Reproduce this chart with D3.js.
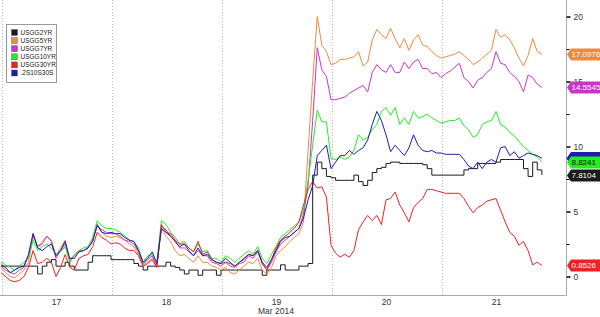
<!DOCTYPE html>
<html>
<head>
<meta charset="utf-8">
<script src="https://cdn.jsdelivr.net/npm/d3@7"></script>
<style>
  html, body { margin: 0; padding: 0; background: #fff; }
  svg { display: block; font-family: "Liberation Sans", Arial, sans-serif; }
</style>
</head>
<body>
<div id="chart"></div>
<script>
// Hourly samples from Mon 17 Mar 2014 00:00 (UTC) — index = hours since start.
const startUtc = Date.UTC(2014, 2, 17);

// Changes in bp, one value per hour.
const usgg2yr = [0.8,0.8,0.8,0.8,0.8,0.8,0.8,0.8,0.2,0.8,
  1.1,1.3,0.8,0.8,1.1,0.8,0.5,0.5,0.5,1.1,
  1.6,1.6,1.6,1.6,1.3,1.3,1.3,1.3,1.3,1.0,
  0.8,0.5,0.8,0.8,0.8,0.8,1.1,0.8,0.7,0.5,
  0.2,0.5,0.5,0.1,0.5,0.5,0.5,0.1,0.5,0.5,
  0.5,0.5,0.5,0.5,0.5,0.5,0.5,0.1,0.5,0.5,
  0.5,0.9,0.5,0.5,0.5,0.8,0.8,1.0,7.8,8.8,
  8.3,7.7,7.6,7.4,7.4,7.4,7.4,7.8,7.3,7.0,
  7.4,8.0,8.3,8.4,8.7,8.8,8.8,8.7,8.7,8.7,
  8.7,8.7,8.6,8.3,7.8,7.8,7.8,7.8,7.8,7.8,
  7.8,8.2,8.3,8.3,8.7,8.7,8.7,8.7,8.8,9.0,
  9.0,9.0,9.0,9.0,8.3,7.7,8.8,8.2,7.8104];

const usgg5yr = [0.7,0.3,0.0,-0.1,0.2,0.5,1.1,3.1,2.3,2.7,
  3.1,2.8,1.6,2.2,2.8,1.1,1.7,2.0,2.0,2.2,
  2.8,3.9,3.4,3.1,3.0,3.1,3.0,2.8,2.5,2.3,
  1.7,0.9,1.1,1.4,0.7,3.7,3.1,2.7,2.0,1.6,
  1.7,1.4,1.1,1.6,1.1,1.1,0.8,0.7,0.5,0.7,
  0.3,0.2,0.5,0.8,1.1,1.0,1.4,0.5,0.2,0.7,
  1.6,2.0,2.3,2.7,3.0,3.3,4.2,9.7,15.1,20.0,
  17.8,17.3,16.3,16.4,16.7,16.7,16.8,16.9,17.3,16.2,
  16.5,18.2,19.0,18.6,18.3,19.1,18.3,17.6,18.3,17.4,
  18.2,18.6,17.8,17.7,17.3,17.0,16.8,16.9,17.0,17.1,
  17.3,17.0,16.7,16.3,16.5,16.8,17.1,17.4,19.0,18.4,
  18.6,18.2,17.6,16.8,16.2,17.0,18.3,17.3,17.0976];

const usgg7yr = [0.8,0.5,0.3,0.2,0.5,0.7,1.6,3.3,2.3,2.5,
  3.1,2.7,1.4,2.0,2.5,1.3,1.6,1.9,2.0,2.2,
  2.8,3.9,3.6,3.4,3.3,3.3,3.1,2.8,2.7,2.5,
  1.9,1.0,1.3,1.6,0.8,3.9,3.6,3.1,2.7,2.2,
  2.2,1.9,1.6,2.0,1.6,1.6,1.1,1.0,0.8,1.1,
  0.8,0.7,1.0,1.1,1.6,1.4,1.9,1.0,0.5,1.1,
  1.9,2.5,2.8,3.1,3.4,3.7,4.8,7.0,12.0,17.6,
  15.9,15.4,13.6,13.6,13.7,13.8,14.1,14.3,14.5,14.7,
  14.2,15.7,16.3,15.9,15.7,16.3,15.7,15.7,16.5,16.0,
  16.5,16.7,16.0,16.0,15.6,15.7,15.3,15.6,15.8,16.1,
  16.4,15.3,15.0,14.5,15.1,15.3,15.7,16.0,17.3,16.4,
  16.3,15.7,15.4,15.0,14.2,15.5,15.3,14.8,14.5545];

const usgg10yr = [1.1,0.9,0.7,0.5,0.8,1.1,1.4,2.8,2.0,2.3,
  2.5,2.2,1.7,1.9,2.3,1.1,1.6,2.0,2.2,2.3,
  3.0,4.3,3.9,3.7,3.7,3.6,3.4,3.1,2.8,2.7,
  2.2,1.1,1.6,1.7,1.1,4.3,4.0,3.4,3.0,2.5,
  2.7,2.2,1.9,2.5,1.9,2.0,1.4,1.4,1.1,1.6,
  1.4,1.1,1.4,1.7,2.0,1.7,2.3,1.4,1.0,1.7,
  2.3,3.0,3.3,3.6,3.9,4.2,5.1,7.4,10.1,12.8,
  11.9,11.9,9.1,9.0,9.2,9.0,9.2,9.7,10.9,10.5,
  10.7,11.3,11.7,12.7,13.0,12.4,13.0,11.7,12.2,11.7,
  12.7,12.2,12.3,12.5,12.2,12.0,11.8,11.9,12.0,12.0,
  12.2,11.6,11.3,10.7,10.9,11.7,11.9,12.0,12.7,11.7,
  11.5,11.1,10.8,10.4,10.0,9.7,9.4,9.2,8.8241];

const usgg30yr = [0.3,0.0,-0.3,-0.4,-0.3,0.0,0.7,2.0,1.0,1.1,
  1.4,1.1,0.0,0.7,1.7,0.7,0.5,1.4,1.6,1.7,
  2.3,3.4,3.0,2.8,2.5,2.6,2.5,2.2,2.0,2.0,
  1.6,0.8,1.0,1.3,0.7,4.0,3.4,3.3,2.8,2.5,
  2.5,2.2,1.9,2.7,1.7,1.9,1.3,1.1,1.0,1.1,
  1.0,0.8,1.1,1.3,1.7,1.6,2.0,1.0,0.5,1.3,
  2.2,2.8,3.1,3.4,3.7,4.2,5.5,6.7,7.3,6.8,
  6.9,6.1,2.4,1.8,1.5,1.7,1.5,2.0,3.6,4.2,
  4.7,4.3,4.7,4.0,5.9,6.0,6.5,5.5,4.9,4.2,
  5.3,5.7,6.0,6.7,6.7,6.6,6.5,6.4,6.4,6.4,
  6.4,6.0,5.4,4.9,5.3,5.5,5.8,5.9,6.0,5.1,
  4.2,3.4,3.1,2.4,2.7,2.0,0.9,1.1,0.8526];

const s2s10s30s = [0.9,0.7,0.3,0.5,0.7,0.8,1.7,3.3,2.2,2.0,
  2.3,2.5,1.6,2.0,2.7,1.4,1.4,1.9,2.0,2.2,
  2.7,4.0,3.4,3.3,3.4,3.3,3.3,3.0,2.8,2.7,
  2.0,1.1,1.4,1.9,1.0,3.7,3.4,3.1,2.7,2.3,
  2.5,2.0,1.6,2.2,1.6,1.7,1.3,1.1,1.0,1.4,
  1.1,0.8,1.1,1.4,1.7,1.6,2.0,1.1,0.7,1.3,
  2.0,2.7,3.0,3.1,3.4,3.7,4.5,5.9,7.0,9.3,
  9.7,10.1,8.3,8.8,9.3,9.3,9.7,9.4,9.7,9.9,
  10.5,11.7,12.7,12.0,10.9,9.6,10.1,9.7,9.3,9.9,
  10.9,10.1,9.7,9.6,9.7,9.5,9.5,9.4,9.4,9.4,
  9.4,9.0,8.5,8.3,8.8,8.3,8.8,9.0,8.8,9.9,
  10.0,9.3,9.6,9.1,9.3,9.5,9.4,9.3,9.1];

const seriesNames  = ["USGG2YR", "USGG5YR", "USGG7YR", "USGG10YR", "USGG30YR", ".2S10S30S"];
const seriesValues = [usgg2yr, usgg5yr, usgg7yr, usgg10yr, usgg30yr, s2s10s30s];
const seriesColors = ["#1a1a1a", "#ee8a3c", "#cc33cc", "#22ee22", "#ee2222", "#1c1cae"];
const tagLabels    = ["7.8104", "17.0976", "14.5545", "8.8241", "0.8526", ""];
const tagText      = ["#fff", "#fff", "#fff", "#000", "#fff", "#fff"];
const dayTicks     = [17, 18, 19, 20, 21];
const yMajor       = [0, 5, 10, 15, 20];
const yMinor       = [2.5, 7.5, 12.5, 17.5];

const W = 600, H = 317;
const plot = {left: 1, right: 566, top: 0, bottom: 295};

const svg = d3.select("#chart").append("svg")
  .attr("width", W).attr("height", H)
  .attr("viewBox", [0, 0, W, H]);

const x = d3.scaleUtc()
  .domain([new Date(startUtc), new Date(startUtc + (5 * 24 + 3.27) * 3600e3)])
  .range([plot.left, plot.right]);
const y = d3.scaleLinear().domain([-1.42, 21.27]).range([plot.bottom, plot.top]);

const times = usgg2yr.map((_, i) => new Date(startUtc + i * 3600e3));

svg.append("clipPath").attr("id", "clip")
  .append("rect").attr("x", 0).attr("y", 0)
  .attr("width", plot.right).attr("height", plot.bottom);

// dotted day separators
const dayStart = d => new Date(Date.UTC(2014, 2, d));
svg.append("g").selectAll("line").data(dayTicks).join("line")
  .attr("x1", d => Math.round(x(dayStart(d))) + 1.5).attr("x2", d => Math.round(x(dayStart(d))) + 1.5)
  .attr("y1", plot.top).attr("y2", plot.bottom)
  .attr("stroke", "#b8b8b8").attr("stroke-dasharray", "1,2");

// plot frame: bottom and right edges
svg.append("line").attr("x1", 0).attr("x2", plot.right + 0.5)
  .attr("y1", plot.bottom + 0.5).attr("y2", plot.bottom + 0.5).attr("stroke", "#aaa");
svg.append("line").attr("x1", plot.right + 0.5).attr("x2", plot.right + 0.5)
  .attr("y1", 0).attr("y2", plot.bottom + 0.5).attr("stroke", "#aaa");

// series lines (legend order, blue drawn last)
const lines = svg.append("g").attr("clip-path", "url(#clip)");
seriesValues.forEach((vals, k) => {
  const line = d3.line()
    .x((_, i) => x(times[i]))
    .y(d => y(d))
    .curve(k === 0 ? d3.curveStepAfter : d3.curveLinear);
  lines.append("path")
    .attr("d", line(vals))
    .attr("fill", "none")
    .attr("stroke", seriesColors[k])
    .attr("stroke-width", 1)
    .attr("stroke-linejoin", "round");
});

// right value axis
const yAxis = svg.append("g")
  .attr("transform", `translate(${plot.right + 0.5},0)`)
  .call(d3.axisRight(y).tickValues(yMajor).tickSize(4).tickPadding(3));
yAxis.select(".domain").remove();
yAxis.selectAll("line").attr("stroke", "#000").attr("stroke-width", 1.5);
yAxis.selectAll("text").attr("font-size", 8.5).attr("fill", "#333")
  .attr("font-family", "Liberation Sans, Arial, sans-serif");
svg.append("g").selectAll("line").data(yMinor).join("line")
  .attr("x1", plot.right + 0.5).attr("x2", plot.right + 3.5)
  .attr("y1", d => Math.round(y(d)) + 0.5).attr("y2", d => Math.round(y(d)) + 0.5)
  .attr("stroke", "#000");

// bottom day labels at mid-day
const noon = d => new Date(Date.UTC(2014, 2, d, 12));
const xAxis = svg.append("g")
  .attr("transform", `translate(0,${plot.bottom})`)
  .call(d3.axisBottom(x).tickValues(dayTicks.map(noon)).tickSize(0).tickPadding(4)
    .tickFormat(d => d.getUTCDate()));
xAxis.select(".domain").remove();
xAxis.selectAll("text").attr("font-size", 8.5).attr("fill", "#333")
  .attr("font-family", "Liberation Sans, Arial, sans-serif");
svg.append("text")
  .attr("x", x(noon(19))).attr("y", 314)
  .attr("text-anchor", "middle").attr("font-size", 8.5).attr("fill", "#333")
  .text("Mar 2014");

// last-value tags on the right axis (blue first so green sits over it)
const tagOrder = [5, 1, 2, 3, 0, 4];
const tags = svg.append("g");
tagOrder.forEach(k => {
  const vals = seriesValues[k];
  const ty = Math.round(y(vals[vals.length - 1])) + 0.5;
  tags.append("path")
    .attr("d", `M${plot.right + 1},${ty} L${plot.right + 5},${ty - 6} L${W + 2},${ty - 6} L${W + 2},${ty + 6} L${plot.right + 5},${ty + 6} Z`)
    .attr("fill", seriesColors[k])
    .attr("stroke", k === 5 ? "#1c1cae" : "none");
  if (tagLabels[k]) {
    tags.append("text")
      .attr("x", plot.right + 5.5).attr("y", ty).attr("dy", "0.36em")
      .attr("font-size", 8).attr("fill", tagText[k])
      .text(tagLabels[k]);
  }
});

// legend
const lg = svg.append("g").attr("transform", "translate(6.5,24.5)");
lg.append("rect").attr("width", 50).attr("height", 58)
  .attr("fill", "#fff").attr("stroke", "#999");
seriesNames.forEach((name, k) => {
  const row = lg.append("g").attr("transform", `translate(5,${8 + k * 8.1})`);
  row.append("rect").attr("x", 0).attr("y", -3).attr("width", 6).attr("height", 6)
    .attr("fill", seriesColors[k]).attr("stroke", "#555").attr("stroke-width", 0.4);
  row.append("text").attr("x", 9).attr("y", 0).attr("dy", "0.35em")
    .attr("font-size", 6.5).attr("fill", "#222")
    .text(name);
});
</script>
</body>
</html>
